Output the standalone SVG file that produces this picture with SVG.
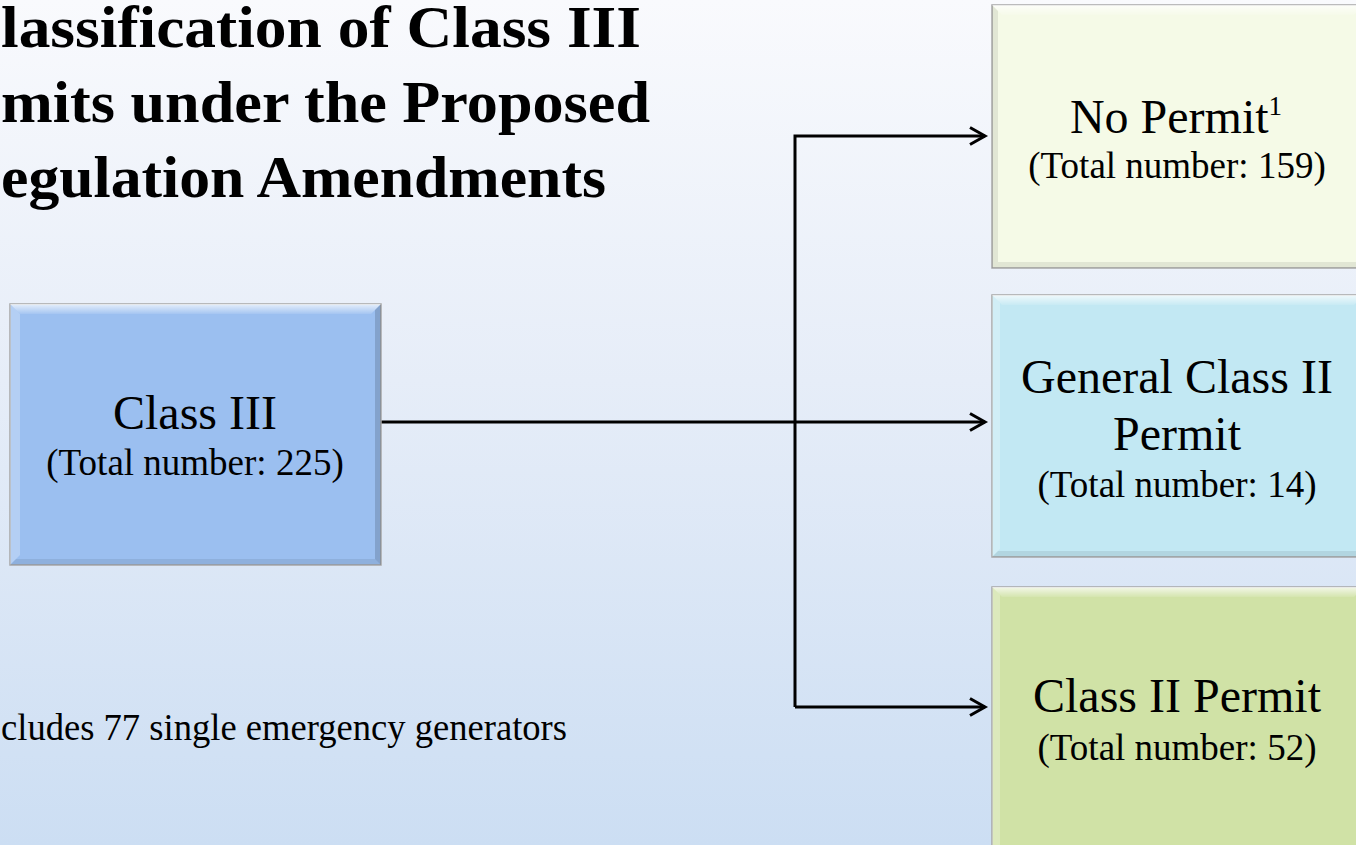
<svg xmlns="http://www.w3.org/2000/svg" width="1356" height="845" viewBox="0 0 1356 845">
  <defs>
    <linearGradient id="bg" x1="0" y1="0" x2="0" y2="1">
      <stop offset="0" stop-color="#F9FAFD"/>
      <stop offset="0.45" stop-color="#E6EDF8"/>
      <stop offset="1" stop-color="#CCDEF3"/>
    </linearGradient>
    <linearGradient id="topHi" x1="0" y1="0" x2="0" y2="1">
      <stop offset="0" stop-color="#FFFFFF" stop-opacity="0.75"/>
      <stop offset="1" stop-color="#FFFFFF" stop-opacity="0.1"/>
    </linearGradient>
    <marker id="arrow" markerUnits="userSpaceOnUse" markerWidth="24" markerHeight="24" viewBox="-20 -12 24 24" refX="0" refY="0" orient="auto">
      <path d="M -15 -8.5 L 0 0 L -15 8.5" fill="none" stroke="#000" stroke-width="3" stroke-linejoin="miter"/>
    </marker>
    <style>
      .title { font-family: "Liberation Serif", "Times New Roman", serif; font-weight: bold; font-size: 59px; fill: #000; }
      .main { font-family: "Liberation Serif", "Times New Roman", serif; font-size: 48px; fill: #000; text-anchor: middle; }
      .sub { font-family: "Liberation Serif", "Times New Roman", serif; font-size: 37px; fill: #000; text-anchor: middle; }
      .note { font-family: "Liberation Serif", "Times New Roman", serif; font-size: 37px; fill: #000; }
      .frame { stroke: #A6A6A6; stroke-width: 1.5; }
      .hi { fill: url(#topHi); }
      .lt { fill: #FFFFFF; fill-opacity: 0.25; }
      .dk { fill: #000000; fill-opacity: 0.15; }
      .dk2 { fill: #000000; fill-opacity: 0.08; }
      .conn { fill: none; stroke: #000; stroke-width: 3; }
    </style>
  </defs>

  <rect x="0" y="0" width="1356" height="845" fill="url(#bg)"/>

  <g id="title">
    <text class="title" x="1" y="47" textLength="640" lengthAdjust="spacingAndGlyphs">lassification of Class III</text>
    <text class="title" x="1" y="122" textLength="649" lengthAdjust="spacingAndGlyphs">mits under the Proposed</text>
    <text class="title" x="1" y="197" textLength="605" lengthAdjust="spacingAndGlyphs">egulation Amendments</text>
  </g>

  <g id="footnote">
    <text class="note" x="1" y="740" textLength="566" lengthAdjust="spacingAndGlyphs">cludes 77 single emergency generators</text>
  </g>

  <g id="connectors">
    <path class="conn" d="M 381 422 L 985 422" marker-end="url(#arrow)"/>
    <path class="conn" d="M 795 707 L 795 136 L 985 136" marker-end="url(#arrow)"/>
    <path class="conn" d="M 795 707 L 985 707" marker-end="url(#arrow)"/>
  </g>

  <g id="node-class3">
    <rect class="frame" x="10" y="304" width="371" height="261" fill="#9BBFF0"/>
    <polygon class="hi" points="10,304 381,304 371,314 20,314"/>
    <polygon class="lt" points="10,304 20,314 20,555 10,565"/>
    <polygon class="dk" points="381,304 381,565 375,559 375,310"/>
    <polygon class="dk2" points="10,565 381,565 375,559 16,559"/>
    <text class="main" x="195" y="429">Class III</text>
    <text class="sub" x="195" y="475">(Total number: 225)</text>
  </g>

  <g id="node-nopermit">
    <rect class="frame" x="992" y="5" width="372" height="263" fill="#F5FAE7"/>
    <polygon class="hi" points="992,5 1364,5 1354,15 1002,15"/>
    <polygon class="dk2" points="992,5 998,11 998,262 992,268" fill-opacity="0.05"/>
    <polygon class="dk2" points="992,268 1364,268 1358,262 998,262"/>
    <text class="main" x="1176" y="133">No Permit<tspan font-size="27" dy="-18">1</tspan></text>
    <text class="sub" x="1177" y="178">(Total number: 159)</text>
  </g>

  <g id="node-general">
    <rect class="frame" x="992" y="295" width="372" height="262" fill="#C2E8F3"/>
    <polygon class="hi" points="992,295 1364,295 1354,305 1002,305"/>
    <polygon class="lt" points="992,295 1000,303 1000,549 992,557"/>
    <polygon class="dk2" points="992,557 1364,557 1358,551 998,551"/>
    <text class="main" x="1177" y="393">General Class II</text>
    <text class="main" x="1177" y="450">Permit</text>
    <text class="sub" x="1177" y="497">(Total number: 14)</text>
  </g>

  <g id="node-class2">
    <rect class="frame" x="992" y="587" width="372" height="270" fill="#D0E2A6"/>
    <polygon class="hi" points="992,587 1364,587 1354,597 1002,597"/>
    <polygon class="lt" points="992,587 1000,595 1000,857 992,857"/>
    <text class="main" x="1177" y="712">Class II Permit</text>
    <text class="sub" x="1177" y="760">(Total number: 52)</text>
  </g>
</svg>
